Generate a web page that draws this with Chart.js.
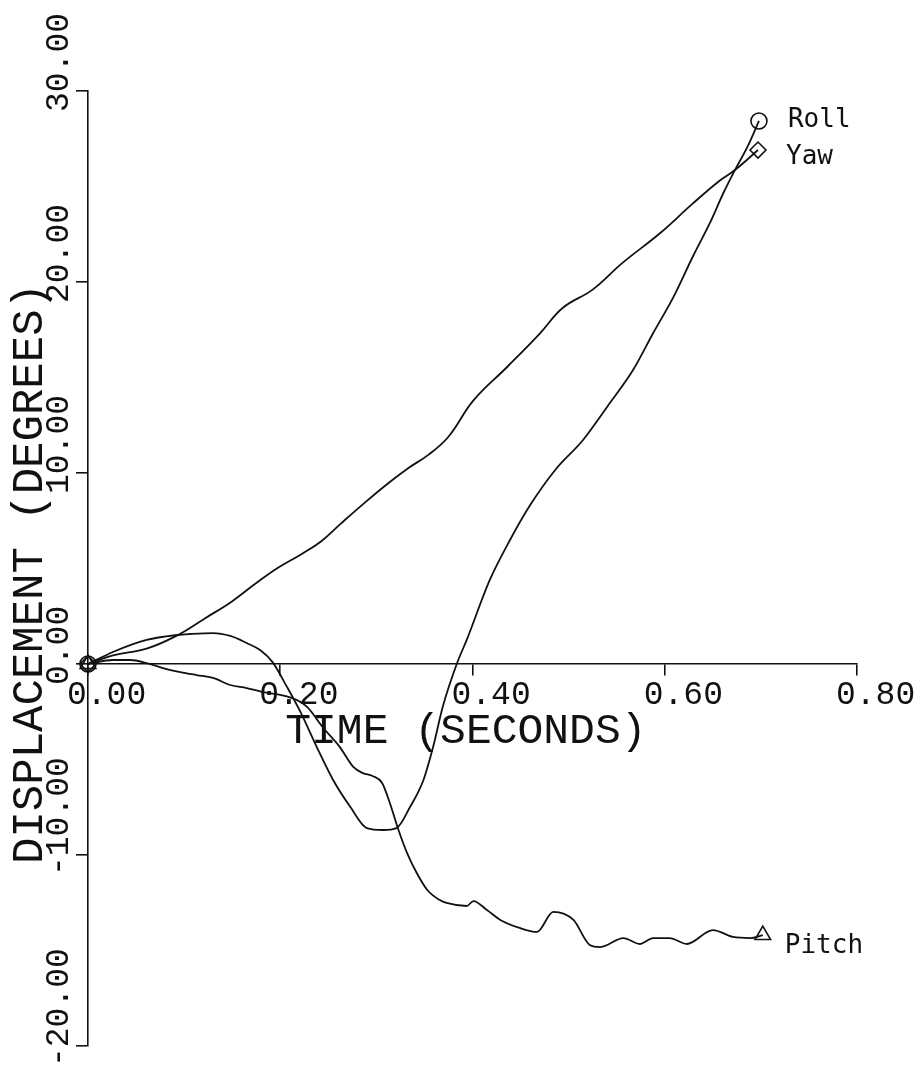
<!DOCTYPE html>
<html><head><meta charset="utf-8">
<script src="https://cdn.jsdelivr.net/npm/chart.js@4.4.1/dist/chart.umd.min.js"></script>
<style>html,body{margin:0;padding:0;background:#fff;}canvas{display:block;}</style>
</head><body>
<canvas id="c" width="922" height="1073"></canvas>
<script>
const xTickValues = [0, 0.2, 0.4, 0.6, 0.8];
const xTickLabels = ['0.00', '0.20', '0.40', '0.60', '0.80'];
const yTickValues = [-20, -10, 0, 10, 20, 30];
const yTickLabels = ['-20.00', '-10.00', '0.00', '10.00', '20.00', '30.00'];
const xTitle = 'TIME (SECONDS)';
const yTitle = 'DISPLACEMENT (DEGREES)';
const seriesNames = ['Roll', 'Yaw', 'Pitch'];

const rollTime = [0, .026, .061, .093, .106, .130, .148, .165, .179, .192, .207, .221, .238, .255, .273, .290, .307, .321, .335, .349, .359, .369, .384, .394, .418, .439, .460, .486, .515, .540, .567, .588, .609, .629, .647, .661, .673, .686, .698];
const rollDeg  = [0, .63, 1.26, 1.52, 1.57, 1.62, 1.47, 1.10, .73, .10, -1.20, -2.51, -4.35, -6.07, -7.49, -8.59, -8.69, -8.59, -7.49, -6.07, -4.35, -2.25, .05, 1.26, 4.40, 6.49, 8.32, 10.16, 11.73, 13.46, 15.39, 17.33, 19.21, 21.31, 23.09, 24.66, 25.86, 27.07, 28.43];

const yawTime = [0, .026, .061, .093, .122, .149, .174, .198, .222, .242, .263, .288, .312, .333, .354, .375, .401, .436, .470, .494, .525, .556, .595, .629, .657, .673, .697];
const yawDeg  = [0, .45, .80, 1.50, 2.40, 3.25, 4.20, 5.05, 5.75, 6.40, 7.35, 8.45, 9.45, 10.25, 10.95, 11.90, 13.80, 15.55, 17.30, 18.65, 19.60, 21.00, 22.55, 24.10, 25.30, 25.86, 26.91];

const pitchTime = [0, .026, .044, .061, .078, .096, .113, .130, .148, .165, .182, .200, .217, .228, .244, .262, .276, .286, .296, .306, .314, .323, .332, .342, .353, .366, .373, .394, .401, .415, .429, .449, .467, .484, .505, .522, .533, .557, .574, .588, .605, .623, .650, .671, .689, .702];
const pitchDeg  = [0, .21, .21, .05, -.21, -.42, -.58, -.73, -1.10, -1.26, -1.47, -1.62, -1.88, -2.25, -3.30, -4.35, -5.39, -5.71, -5.86, -6.23, -7.28, -8.69, -9.90, -10.94, -11.83, -12.36, -12.51, -12.67, -12.41, -12.88, -13.40, -13.82, -14.03, -12.98, -13.40, -14.71, -14.82, -14.35, -14.66, -14.35, -14.35, -14.66, -13.93, -14.29, -14.35, -14.19];

const toPoints = (ts, vs) => ts.map((t, i) => ({x: t, y: vs[i]}));
const endRadius = (r) => (c) => (c.dataIndex === 0 || c.dataIndex === c.dataset.data.length - 1) ? r : 0;

function makeSet(name, ts, vs, style, r, smooth) {
  const s = {
    label: name,
    data: toPoints(ts, vs),
    borderColor: '#111',
    borderWidth: 1.8,
    pointStyle: style,
    pointRadius: endRadius(r),
    pointHoverRadius: endRadius(r),
    pointBorderColor: '#111',
    pointBorderWidth: 1.6,
    pointBackgroundColor: 'rgba(255,255,255,0)',
    clip: false
  };
  if (smooth) { s.tension = 0.4; } else { s.cubicInterpolationMode = 'monotone'; }
  return s;
}

const labelsPlugin = {
  id: 'labelsPlugin',
  afterDraw(chart) {
    const ctx = chart.ctx;
    const xs = chart.scales.x, ys = chart.scales.y;
    ctx.save();
    ctx.fillStyle = '#111';
    ctx.font = '43px "Liberation Mono"';
    ctx.textAlign = 'left';
    ctx.textBaseline = 'alphabetic';
    ctx.fillText(xTitle, xs.getPixelForValue(0.2) + 5, ys.getPixelForValue(0) + 79);
    ctx.save();
    ctx.translate(30, (ys.getPixelForValue(30) + ys.getPixelForValue(-20)) / 2 + 5);
    ctx.rotate(-Math.PI / 2);
    ctx.font = '44px "Liberation Mono"';
    ctx.textAlign = 'center';
    ctx.textBaseline = 'middle';
    ctx.fillText(yTitle, 0, 0);
    ctx.restore();
    ctx.font = '26px "DejaVu Sans Mono"';
    ctx.textAlign = 'left';
    ctx.textBaseline = 'alphabetic';
    const offs = [[29, 6], [28, 14], [22, 18]];
    chart.data.datasets.forEach((ds, i) => {
      const pts = chart.getDatasetMeta(i).data;
      const p = pts[pts.length - 1];
      ctx.fillText(seriesNames[i], p.x + offs[i][0], p.y + offs[i][1]);
    });
    ctx.restore();
  }
};

const tickFont = {family: 'Liberation Mono', size: 33};

new Chart(document.getElementById('c'), {
  type: 'line',
  data: {
    datasets: [
      makeSet(seriesNames[0], rollTime, rollDeg, 'circle', 8, false),
      makeSet(seriesNames[1], yawTime, yawDeg, 'rectRot', 8, true),
      makeSet(seriesNames[2], pitchTime, pitchDeg, 'triangle', 9, false)
    ]
  },
  options: {
    responsive: false,
    animation: false,
    devicePixelRatio: 1,
    layout: {padding: {left: 0, right: 65, top: 91, bottom: 27}},
    plugins: {legend: {display: false}, tooltip: {enabled: false}},
    scales: {
      x: {
        type: 'linear', min: 0, max: 0.8, position: {y: 0},
        afterBuildTicks: s => { s.ticks = xTickValues.map(v => ({value: v})); },
        afterFit: s => { s.height = 0; s.paddingLeft = 0; s.paddingRight = 0; },
        border: {display: true, color: '#111', width: 1.6},
        grid: {display: true, drawOnChartArea: false, drawTicks: true, tickLength: 11, color: '#111', lineWidth: 1.6},
        ticks: {autoSkip: false, minRotation: 0, maxRotation: 0, align: 'start', labelOffset: -21, padding: 0,
                font: tickFont, color: '#111', callback: (v, i) => xTickLabels[i]}
      },
      y: {
        type: 'linear', min: -20, max: 30, position: 'left',
        afterBuildTicks: s => { s.ticks = yTickValues.map(v => ({value: v})); },
        afterFit: s => { s.width = 88; s.paddingTop = 0; s.paddingBottom = 0; },
        border: {display: true, color: '#111', width: 1.6},
        grid: {display: true, drawOnChartArea: false, drawTicks: true, tickLength: 12, color: '#111', lineWidth: 1.6},
        ticks: {autoSkip: false, minRotation: 90, maxRotation: 90, mirror: true, crossAlign: 'near', labelOffset: 21, padding: -29,
                font: tickFont, color: '#111', callback: (v, i) => yTickLabels[i]}
      }
    }
  },
  plugins: [labelsPlugin]
});
</script>
</body></html>
